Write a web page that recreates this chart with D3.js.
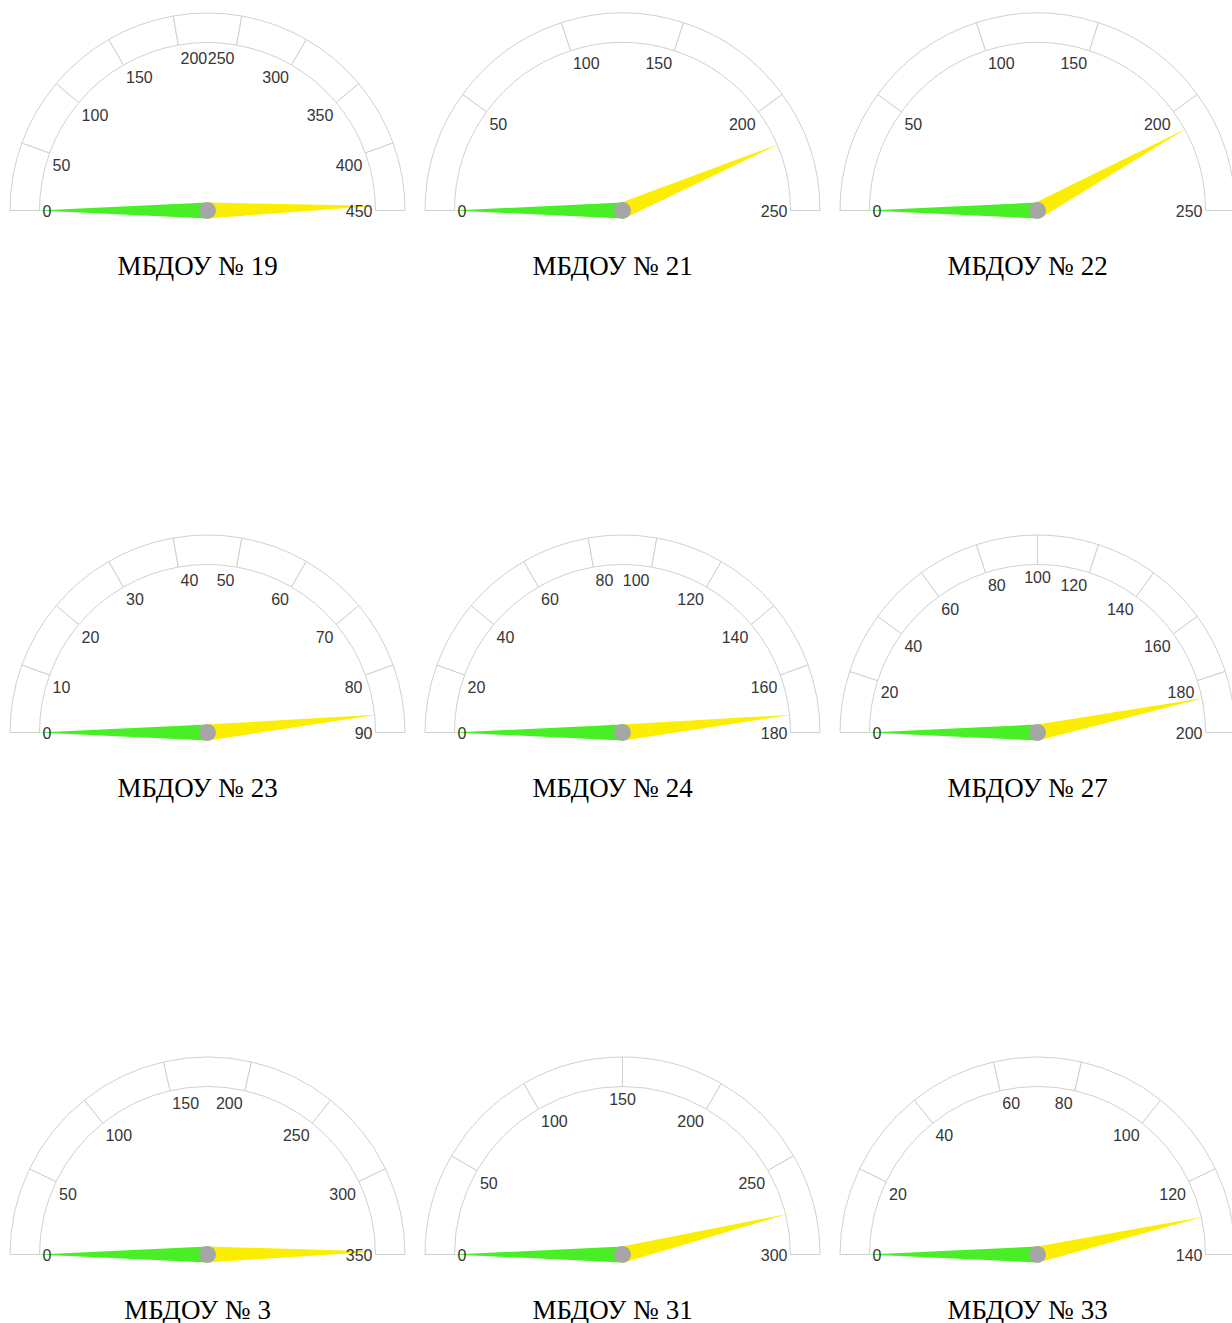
<!DOCTYPE html>
<html>
<head>
<meta charset="utf-8">
<script src="https://d3js.org/d3.v7.min.js"></script>
<style>
body { margin:0; background:#ffffff; }
</style>
</head>
<body>
<div id="GAUGES"></div>
<script>
// gauge data, one entry per kindergarten
var aTitles=["МБДОУ № 19","МБДОУ № 21","МБДОУ № 22","МБДОУ № 23","МБДОУ № 24","МБДОУ № 27","МБДОУ № 3","МБДОУ № 31","МБДОУ № 33"];
var aMaxValues=[450,250,250,90,180,200,350,300,140];
var aTickSteps=[50,50,50,10,20,20,50,50,20];
var aGreenValues=[0,0,0,0,0,0,0,0,0];
var aYellowValues=[446,218,210,87,174,187,348,277,130];

function DrawGauge()
{
	var iCX=0;
	var iCY=0;
	var iMax=100;
	var iStep=10;
	var iGreen=0;
	var iYellow=0;
	var sTitle="";
	var d3Canvas=null;

	var iInner=168;
	var iOuter=197.5;
	var iNeedle=170;
	var iBase=8;
	var iLabelR=167;

	function Render(){}

	Render.draw = function () {
		var g=d3Canvas.append("g")
			.attr("transform","translate("+iCX+","+iCY+")");

		var aAngle=d3.scaleLinear().domain([0,iMax]).range([-Math.PI/2,Math.PI/2]);
		var aTicks=d3.range(0,iMax+iStep/2,iStep);
		var myArc=d3.arc().innerRadius(iInner).outerRadius(iOuter);

		g.selectAll(".band")
			.data(d3.pairs(aTicks))
			.enter().append("path")
				.attr("d",function(p){ return myArc({startAngle:aAngle(p[0]),endAngle:aAngle(p[1])}); })
				.attr("fill","#ffffff")
				.attr("stroke","#d0d0d0")
				.attr("stroke-width",1);

		function needle(v,sColor)
		{
			var a=aAngle(v);
			var tx=iNeedle*Math.sin(a), ty=-iNeedle*Math.cos(a);
			var px=iBase*Math.cos(a), py=iBase*Math.sin(a);
			g.append("path")
				.attr("d",d3.line()([[px,py],[tx,ty],[-px,-py]])+"Z")
				.attr("fill",sColor);
		}
		needle(iGreen,"#48ef26");
		needle(iYellow,"#fcee00");

		g.selectAll(".lbl")
			.data(aTicks)
			.enter().append("text")
				.attr("x",function(v){
					var a=aAngle(v), x=iLabelR*Math.sin(a);
					if(a<-1e-6) return x+2;
					if(a>1e-6) return x-2;
					return x;
				})
				.attr("y",function(v){
					var a=aAngle(v), y=-iLabelR*Math.cos(a);
					return (v==0||v==iMax) ? y+6.7 : y+17.5;
				})
				.attr("text-anchor",function(v){
					var a=aAngle(v);
					return a<-1e-6 ? "start" : (a>1e-6 ? "end" : "middle");
				})
				.style("font-family","'Liberation Sans', Arial, sans-serif")
				.style("font-size","16px")
				.style("fill","#363636")
				.text(function(v){ return v; });

		g.append("circle")
			.attr("r",8.5)
			.attr("fill","#a6a6a6");

		g.append("text")
			.attr("x",-10)
			.attr("y",64.5)
			.attr("text-anchor","middle")
			.style("font-family","'Liberation Serif', 'Times New Roman', serif")
			.style("font-size","27px")
			.style("fill","#000000")
			.text(sTitle);

		return Render;
	};

	Render.center = function(x,y) { iCX=x; iCY=y; return Render; };
	Render.max = function(iValue) { iMax=iValue; return Render; };
	Render.step = function(iValue) { iStep=iValue; return Render; };
	Render.green = function(iValue) { iGreen=iValue; return Render; };
	Render.yellow = function(iValue) { iYellow=iValue; return Render; };
	Render.title = function(sValue) { sTitle=sValue; return Render; };
	Render.canvas = function(oValue) { d3Canvas=oValue; return Render; };

	return Render;
}

var d3Svg=d3.select("#GAUGES").append("svg")
	.attr("width",1232)
	.attr("height",1323);

aTitles.forEach(function(sName,i){
	var iCol=i%3, iRow=Math.floor(i/3);
	DrawGauge()
		.canvas(d3Svg)
		.center(207.5+415*iCol,210.5+522*iRow)
		.max(aMaxValues[i])
		.step(aTickSteps[i])
		.green(aGreenValues[i])
		.yellow(aYellowValues[i])
		.title(sName)
		.draw();
});
</script>
</body>
</html>
